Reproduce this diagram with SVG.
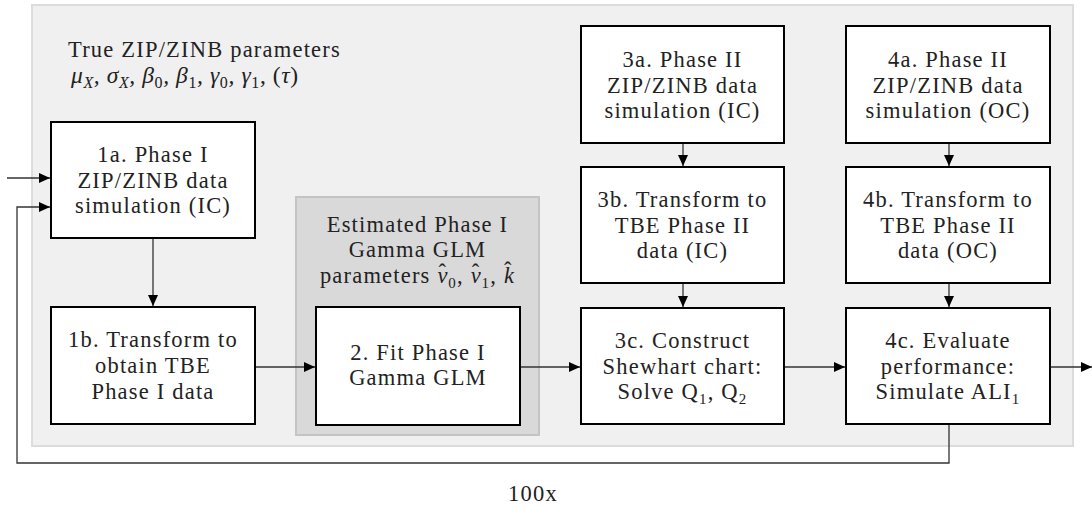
<svg xmlns="http://www.w3.org/2000/svg" width="1092" height="508" viewBox="0 0 1092 508">
<style>
text{font-family:"Liberation Serif","DejaVu Serif",serif}
.t{font-size:22.5px;letter-spacing:1.2px;fill:#222;text-anchor:middle}
.l{text-anchor:start}
.m{font-size:23.5px;font-style:italic;fill:#222;letter-spacing:0.6px}
.box{fill:#fff;stroke:#000;stroke-width:2}
.c{fill:none;stroke:#333;stroke-width:1.3}
.sub{font-size:16px}
</style>
<defs>
<marker id="ah" markerUnits="userSpaceOnUse" markerWidth="12" markerHeight="12" refX="11" refY="5" orient="auto">
<path d="M0,0 L11,5 L0,10 Z" fill="#000"/>
</marker>
</defs>
<rect id="bg" x="32" y="5" width="1041" height="441" fill="#f0f0f0" stroke="#dcdcdc" stroke-width="2"/>
<g id="params">
<text class="t l" x="68" y="57">True ZIP/ZINB parameters</text>
<text class="m" x="71" y="83">μ<tspan class="sub" dy="5">X</tspan><tspan dy="-5">, σ</tspan><tspan class="sub" dy="5">X</tspan><tspan dy="-5">, β</tspan><tspan class="sub" dy="5" font-style="normal">0</tspan><tspan dy="-5">, β</tspan><tspan class="sub" dy="5" font-style="normal">1</tspan><tspan dy="-5">, γ</tspan><tspan class="sub" dy="5" font-style="normal">0</tspan><tspan dy="-5">, γ</tspan><tspan class="sub" dy="5" font-style="normal">1</tspan><tspan dy="-5" font-style="normal">, (</tspan><tspan>τ</tspan><tspan font-style="normal">)</tspan></text>
</g>
<g id="n1a">
<rect class="box" x="51" y="122" width="204" height="116"/>
<text class="t" x="153" y="162">1a. Phase I</text>
<text class="t" x="153" y="188">ZIP/ZINB data</text>
<text class="t" x="153" y="213">simulation (IC)</text>
</g>
<g id="n1b">
<rect class="box" x="51" y="307" width="204" height="117"/>
<text class="t" x="153" y="347">1b. Transform to</text>
<text class="t" x="153" y="373">obtain TBE</text>
<text class="t" x="153" y="399">Phase I data</text>
</g>
<g id="n2group">
<rect x="296" y="197" width="243" height="238" fill="#d9d9d9" stroke="#c4c4c4" stroke-width="2"/>
<text class="t" x="417.5" y="232">Estimated Phase I</text>
<text class="t" x="417.5" y="257">Gamma GLM</text>
<text class="t" x="417.5" y="283">parameters <tspan font-style="italic">ν</tspan><tspan dx="-10" dy="-3">ˆ</tspan><tspan font-size="15" dx="1" dy="8">0</tspan><tspan dy="-5">, </tspan><tspan font-style="italic">ν</tspan><tspan dx="-10" dy="-3">ˆ</tspan><tspan font-size="15" dx="1" dy="8">1</tspan><tspan dy="-5">, </tspan><tspan font-style="italic">k</tspan><tspan dx="-11" dy="-5">ˆ</tspan></text>
</g>
<g id="n2">
<rect class="box" x="316" y="307" width="204" height="118"/>
<text class="t" x="418" y="360">2. Fit Phase I</text>
<text class="t" x="418" y="385">Gamma GLM</text>
</g>
<g id="n3a">
<rect class="box" x="581" y="26" width="203" height="117"/>
<text class="t" x="682.5" y="67">3a. Phase II</text>
<text class="t" x="682.5" y="93">ZIP/ZINB data</text>
<text class="t" x="682.5" y="118">simulation (IC)</text>
</g>
<g id="n3b">
<rect class="box" x="581" y="167" width="203" height="116"/>
<text class="t" x="682.5" y="207">3b. Transform to</text>
<text class="t" x="682.5" y="233">TBE Phase II</text>
<text class="t" x="682.5" y="258">data (IC)</text>
</g>
<g id="n3c">
<rect class="box" x="581" y="308" width="203" height="116"/>
<text class="t" x="682.5" y="348">3c. Construct</text>
<text class="t" x="682.5" y="374">Shewhart chart:</text>
<text class="t" x="682.5" y="399">Solve Q<tspan font-size="15" dy="5">1</tspan><tspan dy="-5">, Q</tspan><tspan font-size="15" dy="5">2</tspan></text>
</g>
<g id="n4a">
<rect class="box" x="846" y="26" width="204" height="117"/>
<text class="t" x="948" y="67">4a. Phase II</text>
<text class="t" x="948" y="93">ZIP/ZINB data</text>
<text class="t" x="948" y="118">simulation (OC)</text>
</g>
<g id="n4b">
<rect class="box" x="846" y="167" width="204" height="116"/>
<text class="t" x="948" y="207">4b. Transform to</text>
<text class="t" x="948" y="233">TBE Phase II</text>
<text class="t" x="948" y="258">data (OC)</text>
</g>
<g id="n4c">
<rect class="box" x="846" y="308" width="204" height="116"/>
<text class="t" x="948" y="348">4c. Evaluate</text>
<text class="t" x="948" y="374">performance:</text>
<text class="t" x="948" y="399">Simulate ALI<tspan font-size="15" dy="5">1</tspan></text>
</g>
<g id="connectors">
<line class="c" x1="7" y1="178" x2="50" y2="178" marker-end="url(#ah)"/>
<polyline class="c" points="949,425 949,463 17,463 17,207 50,207" marker-end="url(#ah)"/>
<line class="c" x1="153" y1="239" x2="153" y2="306" marker-end="url(#ah)"/>
<line class="c" x1="256" y1="367" x2="315" y2="367" marker-end="url(#ah)"/>
<line class="c" x1="521" y1="367" x2="580" y2="367" marker-end="url(#ah)"/>
<line class="c" x1="785" y1="367" x2="845" y2="367" marker-end="url(#ah)"/>
<line class="c" x1="1051" y1="367" x2="1092" y2="367" marker-end="url(#ah)"/>
<line class="c" x1="683" y1="144" x2="683" y2="166" marker-end="url(#ah)"/>
<line class="c" x1="683" y1="284" x2="683" y2="307" marker-end="url(#ah)"/>
<line class="c" x1="949" y1="144" x2="949" y2="166" marker-end="url(#ah)"/>
<line class="c" x1="949" y1="284" x2="949" y2="307" marker-end="url(#ah)"/>
</g>
<text id="loop" class="t" x="533" y="501">100x</text>
</svg>
